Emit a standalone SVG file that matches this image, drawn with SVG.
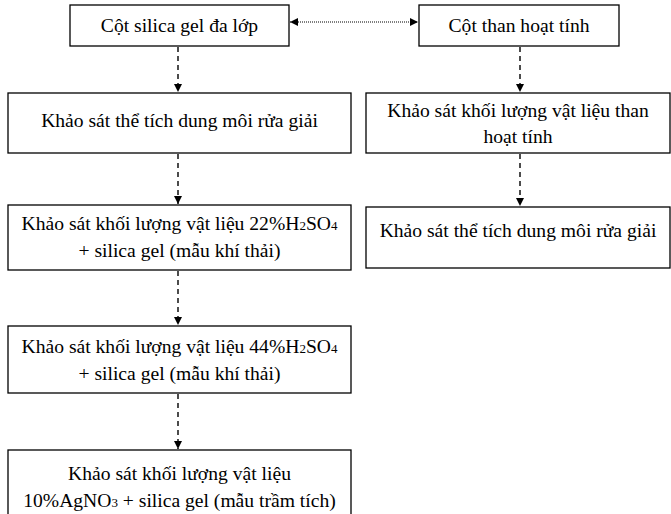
<svg xmlns="http://www.w3.org/2000/svg" width="671" height="514" viewBox="0 0 671 514">
<style>
.box{fill:#fff;stroke:#000;stroke-width:1.3}
.t{font-family:"Liberation Serif","Times New Roman",serif;font-size:19.6px;fill:#000;text-anchor:middle}
.s{font-size:13px}
.dash{stroke:#000;stroke-width:1.4;stroke-dasharray:5 4;fill:none}
.dot{stroke:#000;stroke-width:1.2;stroke-dasharray:1 1;fill:none}
</style>
<defs>
<marker id="ah" markerWidth="9" markerHeight="9" refX="8" refY="4.5" orient="auto" markerUnits="userSpaceOnUse">
<path d="M0,0.5 L8,4.5 L0,8.5 Z" fill="#000"/>
</marker>
<marker id="as" markerWidth="9" markerHeight="9" refX="0" refY="4.5" orient="auto" markerUnits="userSpaceOnUse">
<path d="M8,0.5 L0,4.5 L8,8.5 Z" fill="#000"/>
</marker>
</defs>
<g id="connectors">
<line class="dot" x1="290" y1="22" x2="418" y2="22" marker-start="url(#as)" marker-end="url(#ah)"/>
<line class="dash" x1="178" y1="47" x2="178" y2="92" marker-end="url(#ah)"/>
<line class="dash" x1="520" y1="47" x2="520" y2="92" marker-end="url(#ah)"/>
<line class="dash" x1="178" y1="154" x2="178" y2="204" marker-end="url(#ah)"/>
<line class="dash" x1="520" y1="154" x2="520" y2="206" marker-end="url(#ah)"/>
<line class="dash" x1="178" y1="271" x2="178" y2="325" marker-end="url(#ah)"/>
<line class="dash" x1="178" y1="394" x2="178" y2="449" marker-end="url(#ah)"/>
</g>
<g id="n1"><rect class="box" x="70" y="5" width="219" height="41"/><text class="t" x="179.5" y="32">Cột silica gel đa lớp</text></g>
<g id="n2"><rect class="box" x="419" y="5" width="200" height="41"/><text class="t" x="519" y="32">Cột than hoạt tính</text></g>
<g id="n3"><rect class="box" x="8" y="93" width="343" height="60"/><text class="t" x="179.5" y="127">Khảo sát thể tích dung môi rửa giải</text></g>
<g id="n4"><rect class="box" x="366" y="93" width="304" height="60"/><text class="t" x="518" y="117">Khảo sát khối lượng vật liệu than</text><text class="t" x="518" y="143">hoạt tính</text></g>
<g id="n5"><rect class="box" x="366" y="207" width="304" height="61"/><text class="t" x="518" y="237">Khảo sát thể tích dung môi rửa giải</text></g>
<g id="n6"><rect class="box" x="8" y="205" width="343" height="65"/><text class="t" x="179.5" y="230">Khảo sát khối lượng vật liệu 22%H<tspan class="s">2</tspan>SO<tspan class="s">4</tspan></text><text class="t" x="179.5" y="257">+ silica gel (mẫu khí thải)</text></g>
<g id="n7"><rect class="box" x="8" y="326" width="343" height="67"/><text class="t" x="179.5" y="353">Khảo sát khối lượng vật liệu 44%H<tspan class="s">2</tspan>SO<tspan class="s">4</tspan></text><text class="t" x="179.5" y="380">+ silica gel (mẫu khí thải)</text></g>
<g id="n8"><rect class="box" x="8" y="450" width="343" height="70"/><text class="t" x="179.5" y="480">Khảo sát khối lượng vật liệu</text><text class="t" x="179.5" y="507">10%AgNO<tspan class="s">3</tspan> + silica gel (mẫu trầm tích)</text></g>
</svg>
